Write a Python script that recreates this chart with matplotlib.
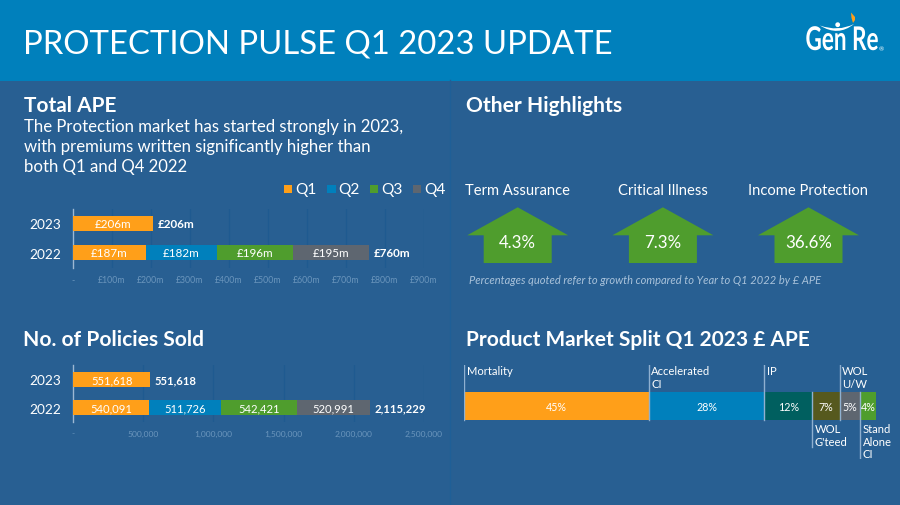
import matplotlib
matplotlib.use("Agg")
import matplotlib.pyplot as plt
import matplotlib.patheffects as pe
from matplotlib.patches import Polygon, Rectangle, Circle, PathPatch
from matplotlib.path import Path
from matplotlib.transforms import Affine2D

plt.rcParams['font.family'] = ['Lato', 'DejaVu Sans']

W, H = 900, 506
BG = '#285F92'
HEADER = '#0080BC'
ORANGE, BLUE, GREEN, GREY = '#FF9F19', '#0080BC', '#4F9D2D', '#5E6670'
TEAL, OLIVE = '#005F5F', '#56591E'
TICK = '#6A95BC'
GRID = '#1F5A90'
LEAD = '#8FB0D0'

years = ['2022', '2023']
quarters = ['Q1', 'Q2', 'Q3', 'Q4']
quarter_colors = [ORANGE, BLUE, GREEN, GREY]

ape_2022 = [187, 182, 196, 195]
ape_2023 = [206]
ape_totals = [760, 206]
ape_ticks = [100, 200, 300, 400, 500, 600, 700, 800, 900]

pol_2022 = [540091, 511726, 542421, 520991]
pol_2023 = [551618]
pol_totals = [2115229, 551618]
pol_ticks = [500000, 1000000, 1500000, 2000000, 2500000]

growth_names = ['Term Assurance', 'Critical Illness', 'Income Protection']
growth_values = ['4.3%', '7.3%', '36.6%']

split_names = ['Mortality', 'Accelerated\nCI', 'IP', "WOL\nG'teed", 'WOL\nU/W', 'Stand\nAlone\nCI']
split_values = [44.9, 28.1, 11.7, 6.6, 5.0, 3.8]
split_labels = ['45%', '28%', '12%', '7%', '5%', '4%']
split_colors = [ORANGE, BLUE, TEAL, OLIVE, GREY, GREEN]
split_below = [False, False, False, True, False, True]

fig = plt.figure(figsize=(W / 100, H / 100), dpi=100, facecolor=BG)


def axes_px(l, t, r, b, **kw):
    return fig.add_axes([l / W, 1 - b / H, (r - l) / W, (b - t) / H], **kw)


class SqueezeX(pe.AbstractPathEffect):
    """Narrow a text horizontally about a display x position."""

    def __init__(self, cx, sx):
        super().__init__()
        self.cx, self.sx = cx, sx

    def draw_path(self, renderer, gc, tpath, affine, rgbFace=None):
        squeezed = affine + Affine2D().translate(-self.cx, 0).scale(self.sx, 1).translate(self.cx, 0)
        renderer.draw_path(gc, tpath, squeezed, rgbFace)


bg = axes_px(0, 0, W, H)
bg.set_xlim(0, W)
bg.set_ylim(H, 0)
bg.axis('off')
bg.add_patch(Rectangle((0, 0), W, 81.5, fc=HEADER, ec='none'))
bg.plot([450, 450], [81, 506], color='#1F5F97', lw=1)

bg.text(23, 44.5, 'PROTECTION PULSE Q1 2023 UPDATE', color='white', fontsize=23.7, va='center', ha='left')


def heading(x, y, s, fs):
    bg.text(x, y, s, color='white', fontsize=fs, fontweight='bold', va='center', ha='left')


heading(24, 105.5, 'Total APE', 15)
heading(466, 105.5, 'Other Highlights', 15.1)
heading(23, 339.5, 'No. of Policies Sold', 15.1)
heading(466, 339.5, 'Product Market Split Q1 2023 £ APE', 15)

for y, s in zip([127, 147, 167], ['The Protection market has started strongly in 2023,',
                                  'with premiums written significantly higher than',
                                  'both Q1 and Q4 2022']):
    bg.text(24, y, s, color='white', fontsize=12.1, va='center', ha='left')

# legend
for x, q, c in zip([283.5, 327, 369.5, 412.5], quarters, quarter_colors):
    bg.add_patch(Rectangle((x, 186), 8.5, 8, fc=c, ec='none'))
    bg.text(x + 11.5, 189.8, q, color='white', fontsize=11.2, va='center', ha='left')


def stacked(ax, v22, v23, totals, xmax, ticks, fmt, h, fs, tfs):
    ax.set_facecolor('none')
    ax.set_xlim(0, xmax)
    ax.set_ylim(-0.5, 1.5)
    for rows_y, vals in zip([0, 1], [v22, v23]):
        left = 0
        for v, c in zip(vals, quarter_colors):
            ax.barh(rows_y, v, left=left, height=h, color=c, edgecolor='none', zorder=3)
            ax.text(left + v / 2, rows_y, fmt(v), color='white', fontsize=fs, ha='center', va='center', zorder=4)
            left += v
        ax.text(left + xmax * 0.012, rows_y, fmt(totals[rows_y]), color='white', fontsize=fs,
                fontweight='bold', ha='left', va='center', zorder=4)
    ax.set_yticks([0, 1], years, color='white', fontsize=9.8)
    ax.set_xticks([0] + ticks, ['-'] + [fmt(t) for t in ticks], color=TICK, fontsize=tfs)
    ax.tick_params(axis='both', length=0)
    ax.tick_params(axis='x', pad=5.5)
    ax.tick_params(axis='y', pad=8.5)
    ax.xaxis.grid(True, color=GRID, lw=0.9, zorder=1)
    ax.set_axisbelow(True)
    for s in ['top', 'right', 'bottom']:
        ax.spines[s].set_visible(False)
    ax.spines['left'].set_color('#9DB8D3')
    ax.spines['left'].set_linewidth(1.0)


ax1 = axes_px(73, 209.5, 424, 268.5)
stacked(ax1, ape_2022, ape_2023, ape_totals, 900, ape_ticks, lambda v: f'£{v}m', 0.5, 8.4, 6.3)

ax2 = axes_px(73, 366.4, 424, 422.8)
stacked(ax2, pol_2022, pol_2023, pol_totals, 2500000, pol_ticks, lambda v: f'{v:,}', 0.52, 8.1, 6.1)

# other highlights
for cx, name, val in zip([517.7, 662.9, 808.5], growth_names, growth_values):
    bg.text(cx, 191.3, name, color='white', fontsize=10.6, ha='center', va='center')
    pts = [(cx, 208.3), (cx + 50.5, 236.3), (cx + 34, 236.3), (cx + 34, 264),
           (cx - 34, 264), (cx - 34, 236.3), (cx - 50.5, 236.3)]
    bg.add_patch(Polygon(pts, closed=True, fc=GREEN, ec='none'))
    bg.text(cx, 242.5, val, color='white', fontsize=12.2, ha='center', va='center')
bg.text(469, 280, 'Percentages quoted refer to growth compared to Year to Q1 2022 by £ APE',
        color='#A9C2DA', fontsize=8.0, style='italic', ha='left', va='center')

# product split
ax3 = axes_px(464, 366, 875.7, 460)
ax3.set_facecolor('none')
ax3.axis('off')
ax3.set_xlim(0, sum(split_values))
ax3.set_ylim(94, 0)
left = 0
for name, v, lab, c, below in zip(split_names, split_values, split_labels, split_colors, split_below):
    ax3.barh(41, v, left=left, height=28.3, color=c, edgecolor='none', zorder=2)
    ax3.text(left + v / 2, 41.5, lab, color='white', fontsize=7.7, ha='center', va='center', zorder=4)
    if below:
        n = name.count('\n') + 1
        ax3.plot([left, left], [27, 81.7 if n == 2 else 94], color=LEAD, lw=1, zorder=3)
        ax3.annotate(name, (left, 58.5), xytext=(2.5, 0), textcoords='offset pixels', color='white',
                     fontsize=8.1, va='top', ha='left', linespacing=1.12)
    else:
        ax3.plot([left, left], [0, 55], color=LEAD, lw=1, zorder=3)
        ax3.annotate(name, (left, 0.5), xytext=(2.5, 0), textcoords='offset pixels', color='white',
                     fontsize=8.1, va='top', ha='left', linespacing=1.12)
    left += v

# logo
bg.text(842, 41.5, 'Gen Re', color='white', fontsize=23.5, fontweight='bold', ha='center', va='center',
        path_effects=[SqueezeX(842, 0.69)])
bg.text(881.5, 50, '®', color='white', fontsize=4.5, ha='center', va='center')
bg.add_patch(PathPatch(Path([(820, 26.5), (838, 38), (854, 25), (838, 33), (820, 26.5)],
                            [Path.MOVETO, Path.CURVE3, Path.CURVE3, Path.CURVE3, Path.CURVE3]),
                       fc='white', ec='none', zorder=5))
bg.add_patch(Circle((837.7, 25.7), 2.4, fc='white', ec='none', zorder=5))
bg.add_patch(Polygon([(851, 13.5), (855, 18), (855, 21), (853, 24), (851.5, 19)], closed=True, fc=ORANGE, ec='none'))

fig.savefig('out.png', dpi=100, facecolor=BG)
